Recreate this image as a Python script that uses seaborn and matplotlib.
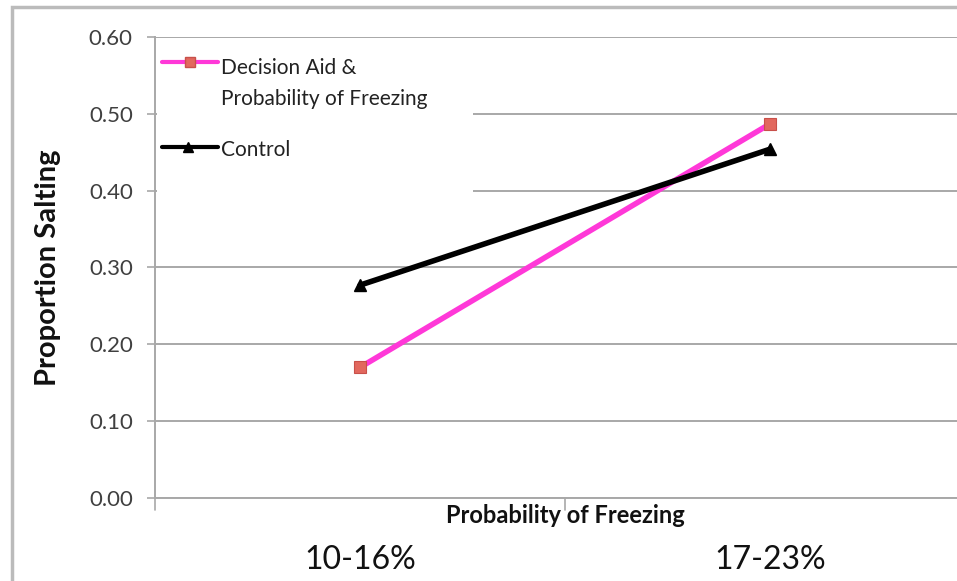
import pandas as pd
import seaborn as sns
import matplotlib.pyplot as plt
from matplotlib.patches import Rectangle

# values
groups = ['10-16%', '17-23%']
aid_values = [0.17, 0.487]
control_values = [0.277, 0.454]
series_names = ['Decision Aid &\nProbability of Freezing', 'Control']
y_ticks = [0.0, 0.1, 0.2, 0.3, 0.4, 0.5, 0.6]

df = pd.DataFrame({
    'group': groups * 2,
    'value': aid_values + control_values,
    'series': [series_names[0]] * 2 + [series_names[1]] * 2,
})

sns.set_style('white')
plt.rcParams['font.family'] = ['Lato', 'DejaVu Sans']

fig = plt.figure(figsize=(9.57, 5.81), dpi=100)
# plot area runs past the right edge, as in the reference
ax = fig.add_axes([0.162, 0.1429, 0.857, 0.7935])

pink = '#FF38D8'
aid_face, aid_edge = '#E2685E', '#C8504A'
sns.lineplot(data=df, x='group', y='value', hue='series',
             palette={series_names[0]: pink, series_names[1]: 'black'},
             linewidth=4, legend=False, ax=ax, sort=False)

# markers
aid_rows = df[df['series'] == series_names[0]]
ctl_rows = df[df['series'] == series_names[1]]
ax.plot(aid_rows['group'], aid_rows['value'], ls='none', marker='s', ms=8.5,
        mfc=aid_face, mec=aid_edge, mew=0.8, zorder=5)
ax.plot(ctl_rows['group'], ctl_rows['value'], ls='none', marker='^', ms=8,
        mfc='black', mec='black', zorder=5)

ax.set_xlim(-0.5, 1.5)
ax.set_ylim(0, 0.6)
ax.set_yticks(y_ticks)
ax.set_yticklabels([f'{v:.2f}' for v in y_ticks], fontsize=16, color='#404040')
ax.yaxis.grid(True, color='#A8A8A8', linewidth=1.4)
ax.set_axisbelow(True)

ax.set_xticks([0, 1])
ax.set_xticklabels(groups, fontsize=23, color='#111111')
ax.tick_params(axis='x', length=0, pad=34)
ax.tick_params(axis='y', length=6, width=1.2, color='#A8A8A8', pad=10, left=True)

# category boundary ticks
for xb in [-0.5, 0.5]:
    ax.plot([xb, xb], [0, -0.015], color='#A8A8A8', lw=1.2, clip_on=False)

ax.set_xlabel('Probability of Freezing', fontsize=17, fontweight='bold',
              color='#111111')
ax.xaxis.set_label_coords(0.5, -0.014)
ax.set_ylabel('Proportion Salting', fontsize=21, fontweight='bold', color='#111111')
ax.yaxis.set_label_coords(-0.115, 0.5)

for side in ['top', 'right']:
    ax.spines[side].set_visible(False)
for side in ['left', 'bottom']:
    ax.spines[side].set_color('#A8A8A8')
    ax.spines[side].set_linewidth(1.4)

# legend box, drawn by hand so the handles sit on the first text line
T = ax.transAxes
ax.add_patch(Rectangle((0.002, 0.657), 0.386, 0.333, transform=T,
                       facecolor='white', edgecolor='none', zorder=3))
ax.plot([0.0085, 0.077], [0.946, 0.946], transform=T, color=pink, lw=3, zorder=4)
ax.plot([0.0427], [0.946], transform=T, marker='s', ms=7.5, mfc=aid_face,
        mec=aid_edge, ls='none', zorder=5)
ax.plot([0.0085, 0.077], [0.761, 0.761], transform=T, color='black', lw=3, zorder=4)
ax.plot([0.04], [0.761], transform=T, marker='^', ms=6.5, color='black',
        ls='none', zorder=5)
legend_lines = series_names[0].split('\n') + [series_names[1]]
for txt, yy in zip(legend_lines, [0.933, 0.866, 0.755]):
    ax.text(0.0805, yy, txt, transform=T, fontsize=15, color='#222222',
            va='center', ha='left', zorder=5)

# outer chart border
fig.patches.append(Rectangle((12 / 957, -0.01), 1.0, 1 - 7 / 581 + 0.01,
                             transform=fig.transFigure, fill=False,
                             edgecolor='#BBBBBB', linewidth=2.5))

fig.savefig('out.png', dpi=100)
